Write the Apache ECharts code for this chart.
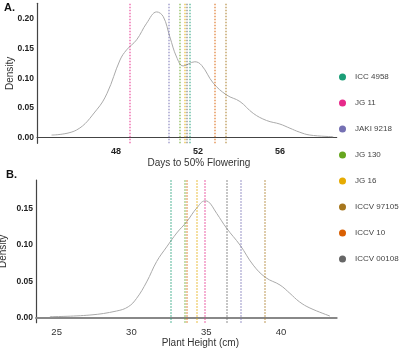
<!DOCTYPE html>
<html>
<head>
<meta charset="UTF-8">
<script src="https://cdn.jsdelivr.net/npm/echarts@6/dist/echarts.min.js"></script>
<style>
  html, body { margin: 0; padding: 0; background: #fff; }
  #chart { width: 400px; height: 350px; }
</style>
</head>
<body>
<div id="chart"></div>
<script>
// genotypes and their colours
const genotypes = ['ICC 4958', 'JG 11', 'JAKI 9218', 'JG 130', 'JG 16', 'ICCV 97105', 'ICCV 10', 'ICCV 00108'];
const colors = ['#1B9E77', '#E7298A', '#7570B3', '#66A61E', '#E6AB02', '#A6761D', '#D95F02', '#666666'];

// A. days to 50% flowering: density curve
const flowerX = [44.86, 46.08, 47.06, 47.57, 48.2, 48.52, 49.01, 49.5, 49.99, 50.31, 50.63, 50.96, 51.28,
  51.85, 52.18, 52.75, 53.4, 54.05, 54.7, 55.35, 56.0, 56.49, 56.94, 57.46, 58.6];
const flowerD = [0.0045, 0.013, 0.047, 0.075, 0.131, 0.148, 0.165, 0.193, 0.212, 0.204, 0.170, 0.136, 0.121,
  0.128, 0.122, 0.092, 0.072, 0.061, 0.041, 0.029, 0.023, 0.016, 0.0096, 0.0045, 0.0017];
// genotype values for A, same order as genotypes
const flowerLines = [51.58, 48.66, 50.6, 51.13, 51.35, 53.34, 52.8, 51.46];
const flowerTicks = [48, 52, 56];

// B. plant height: density curve
const heightX = [24.55, 27.23, 29.01, 29.79, 30.35, 31.02, 31.69, 32.36, 33.03, 33.7, 34.36, 34.92, 35.14,
  35.7, 36.37, 37.26, 38.15, 38.98, 39.94, 40.6, 41.23, 41.94, 43.28];
const heightD = [0.0014, 0.0037, 0.0092, 0.015, 0.0266, 0.049, 0.077, 0.097, 0.116, 0.1315, 0.150, 0.160, 0.159,
  0.143, 0.1225, 0.0996, 0.072, 0.055, 0.0448, 0.0334, 0.0219, 0.0133, 0.0023];
const heightLines = [32.64, 34.91, 37.3, 33.58, 34.36, 38.94, 33.73, 36.36];
const heightTicks = [25, 30, 35, 40];
const densityTicks = [0, 0.05, 0.10, 0.15, 0.20];

const chart = echarts.init(document.getElementById('chart'));

function pairs(xs, ys) {
  return xs.map((x, i) => [x, ys[i]]);
}

const series = [
  {
    type: 'line', xAxisIndex: 0, yAxisIndex: 0, smooth: 0.4, symbol: 'none', silent: true,
    lineStyle: { color: '#aaaaaa', width: 1 }, data: pairs(flowerX, flowerD)
  },
  {
    type: 'line', xAxisIndex: 1, yAxisIndex: 1, smooth: 0.4, symbol: 'none', silent: true,
    lineStyle: { color: '#aaaaaa', width: 1 }, data: pairs(heightX, heightD)
  }
];

genotypes.forEach((g, i) => {
  [flowerLines, heightLines].forEach((vals, k) => {
    series.push({
      name: g, type: 'line', xAxisIndex: k, yAxisIndex: k, data: [],
      itemStyle: { color: colors[i] },
      markLine: {
        silent: true, symbol: 'none', animation: false,
        label: { show: false },
        lineStyle: { color: colors[i], type: 'dotted', width: 1.5, opacity: 0.65 },
        data: [{ xAxis: vals[i] }]
      }
    });
  });
});

const xLabel = { color: '#222', fontSize: 9, fontWeight: 'bold', fontFamily: 'Liberation Sans' };
const yLabel = { color: '#222', fontSize: 8.5, fontWeight: 'bold', fontFamily: 'Liberation Sans', margin: 3 };

chart.setOption({
  animation: false,
  textStyle: { fontFamily: 'Liberation Sans' },
  graphic: [
    { type: 'text', left: 4, top: 2, style: { text: 'A.', font: 'bold 11px Liberation Sans', fill: '#111' } },
    { type: 'text', left: 6, top: 169, style: { text: 'B.', font: 'bold 11px Liberation Sans', fill: '#111' } }
  ],
  legend: {
    orient: 'vertical', left: 339, top: 72, itemGap: 16, padding: 0,
    icon: 'circle', itemWidth: 7, itemHeight: 7,
    data: genotypes,
    textStyle: { color: '#444', fontSize: 8, padding: [0, 0, 0, 4], lineHeight: 10 }
  },
  grid: [
    { left: 37, right: 63.3, top: 3.3, height: 140, outerBoundsMode: 'none', containLabel: false },
    { left: 36, right: 63.3, top: 180, height: 142.7, outerBoundsMode: 'none', containLabel: false }
  ],
  xAxis: [
    {
      type: 'value', gridIndex: 0, min: 44.15, max: 58.77,
      name: 'Days to 50% Flowering', nameLocation: 'middle', nameGap: 15, nameMoveOverlap: false,
      nameTextStyle: { color: '#333', fontSize: 10, padding: [0, 0, 0, 24] },
      axisLine: { lineStyle: { color: '#444', width: 1.2 } },
      axisTick: { show: false },
      axisLabel: Object.assign({ margin: 4, customValues: flowerTicks }, xLabel),
      splitLine: { show: false }
    },
    {
      type: 'value', gridIndex: 1, min: 23.62, max: 43.73,
      name: 'Plant Height (cm)', nameLocation: 'middle', nameGap: 16, nameMoveOverlap: false,
      nameTextStyle: { color: '#333', fontSize: 10, padding: [0, 0, 0, 28] },
      axisLine: { lineStyle: { color: '#888', width: 2 } },
      axisTick: { show: false },
      axisLabel: { margin: 5, customValues: heightTicks, color: '#333', fontSize: 9.5 },
      splitLine: { show: false }
    }
  ],
  yAxis: [
    {
      type: 'value', gridIndex: 0, min: -0.0094, max: 0.2265,
      name: 'Density', nameLocation: 'middle', nameGap: 22, nameMoveOverlap: false,
      nameTextStyle: { color: '#333', fontSize: 10 },
      axisLine: { show: true, lineStyle: { color: '#444', width: 1.2 } },
      axisTick: { show: false },
      axisLabel: Object.assign({ customValues: densityTicks, formatter: v => v.toFixed(2) }, yLabel),
      splitLine: { show: false }
    },
    {
      type: 'value', gridIndex: 1, min: -0.0068, max: 0.1886,
      name: 'Density', nameLocation: 'middle', nameGap: 28, nameMoveOverlap: false,
      nameTextStyle: { color: '#333', fontSize: 10 },
      axisLine: { show: true, lineStyle: { color: '#444', width: 1.2 } },
      axisTick: { show: false },
      axisLabel: Object.assign({ customValues: densityTicks.slice(0, 4), formatter: v => v.toFixed(2) }, yLabel),
      splitLine: { show: false }
    }
  ],
  series: series
});
</script>
</body>
</html>
